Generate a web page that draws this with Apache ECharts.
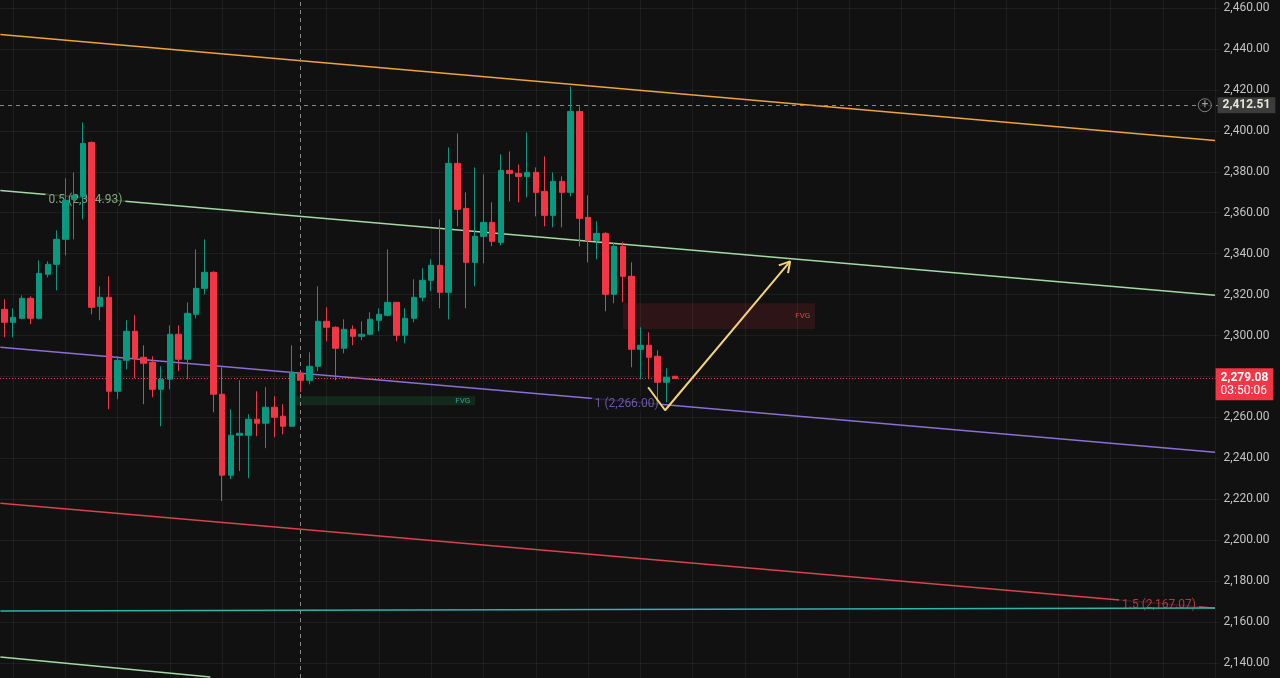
<!DOCTYPE html>
<html>
<head>
<meta charset="utf-8">
<script src="https://cdn.jsdelivr.net/npm/echarts@6/dist/echarts.min.js"></script>
<style>
html,body{margin:0;padding:0;background:#111111;overflow:hidden;}
#c{width:1280px;height:678px;}
</style>
</head>
<body>
<div id="c"></div>
<script>
// ---------- DATA ----------
// candles: [open, close, low, high]
const candleOHLC = [
 [2312.81,2306.46,2299.14,2317.69],[2306.46,2308.90,2299.14,2313.29],[2308.42,2318.18,2307.93,2319.64],
 [2318.18,2308.42,2305.49,2319.16],[2308.42,2330.38,2307.93,2336.73],[2329.90,2334.78,2328.43,2336.24],
 [2334.78,2346.98,2322.09,2351.37],[2346.98,2366.02,2339.17,2376.77],[2366.51,2368.47,2346.98,2379.69],
 [2367.98,2393.85,2356.75,2404.10],[2394.34,2313.78,2310.37,2394.83],[2314.27,2318.67,2307.44,2324.04],
 [2318.67,2272.77,2263.98,2328.92],[2272.77,2287.91,2268.87,2289.87],[2287.91,2302.07,2283.52,2307.44],
 [2302.07,2288.89,2279.12,2309.88],[2289.38,2286.45,2266.42,2295.24],[2286.93,2273.75,2269.84,2289.87],
 [2273.75,2278.63,2255.68,2284.98],[2278.63,2300.61,2273.75,2305.00],[2300.61,2288.40,2282.54,2305.00],
 [2288.40,2310.86,2278.63,2316.22],[2310.37,2323.06,2308.42,2342.10],[2323.06,2330.87,2320.13,2346.98],
 [2330.87,2271.31,2262.52,2331.36],[2271.31,2231.77,2219.08,2284.49],[2231.77,2251.29,2229.82,2263.98],
 [2251.29,2252.26,2233.73,2278.14],[2251.29,2259.10,2230.31,2261.54],[2259.10,2257.15,2250.80,2272.77],
 [2257.15,2264.96,2244.96,2274.73],[2264.96,2260.08,2250.31,2270.33],[2260.57,2255.68,2251.78,2266.42],
 [2255.68,2282.05,2255.68,2295.24],[2281.56,2278.14,2272.28,2282.05],[2278.14,2284.98,2276.19,2291.82],
 [2284.98,2306.95,2282.54,2324.04],[2306.95,2304.02,2297.19,2313.78],[2304.02,2293.77,2278.14,2304.51],
 [2293.77,2303.05,2291.33,2307.93],[2303.05,2299.63,2295.24,2305.00],[2299.63,2300.61,2297.68,2306.95],
 [2300.61,2307.93,2300.12,2311.34],[2307.44,2310.37,2302.07,2313.29],[2309.88,2316.22,2309.39,2342.10],
 [2316.22,2300.12,2297.19,2316.22],[2300.12,2308.42,2296.21,2313.29],[2308.42,2318.67,2306.46,2327.46],
 [2318.67,2326.97,2316.71,2332.83],[2326.97,2334.29,2321.60,2337.22],[2334.29,2321.11,2313.29,2356.75],
 [2321.11,2384.09,2307.93,2391.90],[2384.09,2361.63,2353.33,2398.73],[2362.12,2335.75,2313.29,2369.93],
 [2335.75,2348.44,2324.04,2382.13],[2348.44,2355.28,2335.27,2378.72],[2355.28,2346.00,2343.56,2365.04],
 [2345.52,2380.67,2344.05,2388.48],[2380.67,2379.20,2365.53,2389.94],[2379.20,2377.74,2365.04,2383.60],
 [2377.74,2379.69,2367.49,2399.22],[2379.69,2369.93,2358.21,2382.13],[2370.42,2358.70,2353.33,2387.50],
 [2358.70,2375.30,2352.84,2379.69],[2375.30,2369.93,2352.84,2377.74],[2369.93,2409.47,2367.98,2421.68],
 [2409.47,2357.23,2343.56,2411.91],[2357.72,2346.49,2335.75,2368.47],[2346.49,2349.91,2337.22,2355.77],
 [2349.91,2320.13,2311.83,2350.40],[2320.13,2343.56,2315.74,2345.52],[2343.56,2328.92,2316.22,2345.52],
 [2328.92,2293.28,2284.49,2335.75],[2293.28,2295.24,2278.63,2304.02],[2295.24,2289.38,2278.63,2301.58],
 [2289.87,2277.17,2267.89,2292.79],[2277.17,2279.61,2267.40,2284.00],[2280.10,2279.08,2279.08,2280.10]
];
const totalSlots = 140;                       // bars incl. empty future space
const categories = Array.from({length: totalSlots}, (_, i) => 'bar' + i);

// price scale (visible range) and tick labels
const yMin = 2132.69, yMax = 2463.91;
const yTicks = [2140,2160,2180,2200,2220,2240,2260,2280,2300,2320,2340,2360,2380,2400,2420,2440,2460];

// trend / fib lines: [barIndex, price] endpoints
const orangeLine = [[-0.46, 2447.06], [138.97, 2395.32]];
const greenLine  = [[-0.46, 2370.90], [138.97, 2319.64]];
const purpleLine = [[-0.46, 2294.26], [138.97, 2243.00]];
const redLine    = [[-0.46, 2218.10], [138.97, 2166.75]];
const tealLine   = [[-0.46, 2165.38], [138.97, 2166.84]];
const paleLine   = [[-0.46, 2142.92], [23.64, 2133.16]];

// fib level labels
const fibLabelText = ['0.5 (2,354.93)', '1 (2,266.00)', '1.5 (2,167.07)'];
const fibLabelPos  = [[9.30, 2366.02], [71.44, 2266.42], [132.55, 2168.45]];
const fibLabelColor = ['#9cc79c', '#7e66cc', '#d9444f'];

// FVG zones: [barFrom, barTo, priceTop, priceBottom]
const fvgRed   = [71.0, 93.07, 2315.74, 2303.05];
const fvgGreen = [33.51, 54.05, 2270.33, 2265.94];

// projected path (yellow) and its arrow head
const projPath  = [[73.90, 2274.73], [75.85, 2263.50], [90.20, 2336.24]];
const projHead  = [[88.90, 2334.24], [90.20, 2336.24], [89.96, 2330.48]];

// markers
const crosshairBar = 34;
const crosshairPrice = 2412.51;
const lastPrice = 2279.08;
const countdown = '03:50:06';
const verticalGridBars = [1,7,13,19,25,31,37,43,49,55,61,67,73,79,85,91,97,103,109,115,121,127,133,139];

// ---------- CHART ----------
const fmt = v => v.toLocaleString('en-US', {minimumFractionDigits: 2, maximumFractionDigits: 2});
const FONT = 'Roboto, "Noto Sans", sans-serif';
const GRIDC = 'rgba(255,255,255,0.055)';
const chart = echarts.init(document.getElementById('c'), null, {renderer: 'canvas'});

function trend(data, color, z, width) {
  return {type: 'line', xAxisIndex: 1, yAxisIndex: 0, data: data, symbol: 'none', silent: true,
          lineStyle: {color: color, width: width || 1.5}, z: z, animation: false};
}

const orangeSeries = trend(orangeLine, '#f0a33a', 2);
orangeSeries.markLine = {
  silent: true, symbol: ['none', 'none'], animation: false, z: 1,
  lineStyle: {color: GRIDC, type: 'solid', width: 1},
  label: {show: false},
  data: verticalGridBars.map(b => ({xAxis: b})).concat(yTicks.map(t => ({yAxis: t})))
};
const paleSeries = trend(paleLine, '#a3d9a5', 2);
paleSeries.markArea = {
  silent: true, animation: false,
  data: [
    [{coord: [fvgRed[0], fvgRed[2]], itemStyle: {color: 'rgba(242,54,69,0.13)'},
      label: {show: true, position: 'insideRight', formatter: 'FVG', color: '#f23645', fontSize: 8, fontFamily: FONT}},
     {coord: [fvgRed[1], fvgRed[3]]}],
    [{coord: [fvgGreen[0], fvgGreen[2]], itemStyle: {color: 'rgba(34,171,84,0.16)'},
      label: {show: true, position: 'insideRight', formatter: 'FVG', color: '#22ab94', fontSize: 8, fontFamily: FONT}},
     {coord: [fvgGreen[1], fvgGreen[3]]}]
  ]
};

const projSeries = trend(projPath, '#f3d373', 7, 2);
projSeries.markLine = {
  silent: true, symbol: ['none', 'none'], animation: false,
  data: [
    {xAxis: crosshairBar, lineStyle: {color: '#8a8a8a', type: [4, 4], width: 1}, label: {show: false}},
    {yAxis: crosshairPrice, lineStyle: {color: '#8a8a8a', type: [4, 4], width: 1},
     label: {show: true, position: 'end', distance: -2, formatter: fmt(crosshairPrice),
             backgroundColor: '#3c3c3c', color: '#e6e6d8', fontSize: 12, fontWeight: 'bold',
             fontFamily: FONT, padding: [2, 5, 2, 5]}},
    {yAxis: lastPrice, lineStyle: {color: '#f23645', type: [1, 2], width: 1},
     label: {show: true, position: 'end', distance: -4,
             formatter: '{a|' + fmt(lastPrice) + '}\n{b|' + countdown + '}',
             backgroundColor: '#f23645', padding: [3, 5, 3, 5], offset: [0, 6],
             rich: {a: {color: '#ffffff', fontSize: 12, fontWeight: 'bold', lineHeight: 13, fontFamily: FONT},
                    b: {color: '#ffffff', fontSize: 12, lineHeight: 13, fontFamily: FONT}}}}
  ]
};

const option = {
  backgroundColor: '#111111',
  animation: false,
  grid: {left: -0.36, right: 60.4, top: 0, bottom: 0, containLabel: false},
  xAxis: [
    {type: 'category', data: categories, boundaryGap: true, show: false},
    {type: 'value', min: -0.5, max: totalSlots - 0.5, show: false}
  ],
  yAxis: {
    type: 'value', position: 'right', min: yMin, max: yMax,
    axisLine: {show: false},
    axisTick: {show: false, customValues: yTicks},
    axisLabel: {color: '#c3c3c3', fontSize: 12, fontFamily: FONT, margin: 4,
                customValues: yTicks, formatter: v => fmt(v)},
    splitLine: {show: false}
  },
  series: [
    orangeSeries,
    trend(greenLine, '#a3d9a5', 2),
    trend(purpleLine, '#8b6fd6', 2),
    trend(redLine, '#d9434d', 2),
    paleSeries,
    {
      type: 'scatter', xAxisIndex: 1, yAxisIndex: 0, silent: true, symbolSize: 1,
      itemStyle: {color: 'rgba(0,0,0,0)'}, z: 3,
      label: {show: true, position: 'inside', fontSize: 12, fontFamily: FONT,
              backgroundColor: '#111111', padding: [1, 3, 1, 3]},
      data: fibLabelPos.map((p, i) => ({value: p, label: {formatter: fibLabelText[i], color: fibLabelColor[i]}}))
    },
    trend(tealLine, '#2fb5ab', 4),
    {
      type: 'candlestick', xAxisIndex: 0, yAxisIndex: 0, data: candleOHLC, barWidth: 6, z: 5, silent: true,
      itemStyle: {color: '#089981', color0: '#f23645', borderColor: '#089981', borderColor0: '#f23645', borderWidth: 1}
    },
    projSeries,
    trend(projHead, '#f3d373', 7, 2),
    {
      type: 'scatter', xAxisIndex: 1, yAxisIndex: 0, silent: true, z: 8,
      symbol: 'circle', symbolSize: 13,
      itemStyle: {color: '#111111', borderColor: '#9a9a9a', borderWidth: 1},
      label: {show: true, position: 'inside', formatter: '+', color: '#c0c0c0', fontSize: 12, fontFamily: FONT},
      data: [[137.8, crosshairPrice]]
    }
  ]
};
chart.setOption(option);
</script>
</body>
</html>
